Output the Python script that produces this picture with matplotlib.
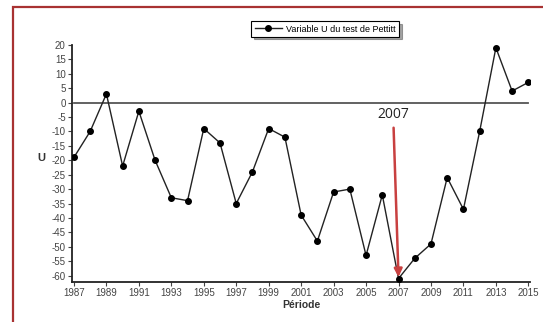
import matplotlib

matplotlib.use("Agg")
import matplotlib.pyplot as plt
from matplotlib.patches import Rectangle

years = list(range(1987, 2016))
u_values = [-19, -10, 3, -22, -3, -20, -33, -34, -9, -14, -35, -24, -9, -12,
            -39, -48, -31, -30, -53, -32, -61, -54, -49, -26, -37, -10, 19, 4, 7]
x_ticks = list(range(1987, 2016, 2))
y_ticks = list(range(-60, 21, 5))
rupture_year = 2007
rupture_u = -61

plt.rcParams["font.family"] = ["Liberation Sans", "DejaVu Sans"]
plt.rcParams["axes.unicode_minus"] = False

fig = plt.figure(figsize=(5.43, 3.22), dpi=100)
ax = fig.add_axes([0.1326, 0.1242, 0.8434, 0.7392])

# red frame around the chart (only left and top visible in the original)
fig.patches.append(Rectangle((12.5 / 543, -0.1), 1.2, (322 - 7) / 322 + 0.1,
                             transform=fig.transFigure, fill=False,
                             edgecolor="#a83232", linewidth=1.6))

ax.axhline(0, xmin=0.005, xmax=0.995, color="#555555", lw=1.3, zorder=1)
ax.plot(years, u_values, color="#222222", lw=1.0, marker="o", ms=4,
        markerfacecolor="black", markeredgecolor="black",
        label="Variable U du test de Pettitt", zorder=3)

ax.set_xlim(1986.88, 2015.1)
ax.set_ylim(-62.2, 20.3)
ax.set_xticks(x_ticks)
ax.set_yticks(y_ticks)
ax.tick_params(labelsize=7, colors="#444444", length=3, width=0.8, pad=1.5)
for s in ["top", "right"]:
    ax.spines[s].set_visible(False)
for s in ["left", "bottom"]:
    ax.spines[s].set_linewidth(1.3)
    ax.spines[s].set_color("#222222")
ax.spines["left"].set_bounds(-62.2, 20)

ax.set_xlabel("Période", fontsize=7.5, fontweight="bold", color="#333333", labelpad=1)
ax.set_ylabel("U", fontsize=8, fontweight="bold", color="#333333", rotation=0,
              ha="center", va="center")
ax.yaxis.set_label_coords(-0.066, 0.522)

leg = ax.legend(loc="upper center", bbox_to_anchor=(0.553, 1.095), fontsize=6.5,
                frameon=True, fancybox=False, shadow=True, borderpad=0.35,
                handlelength=3.0, handletextpad=0.5, borderaxespad=0)
leg.get_frame().set_edgecolor("black")
leg.get_frame().set_linewidth(0.8)

ax.annotate(str(rupture_year), xy=(rupture_year, rupture_u + 0.5),
            xytext=(rupture_year - 0.33, -1.6), ha="center", va="top",
            fontsize=10, family=["Open Sans", "DejaVu Sans"], color="#222222",
            arrowprops=dict(arrowstyle="-|>", color="#c84040", lw=1.8,
                            mutation_scale=12, shrinkA=2, shrinkB=0),
            zorder=4)

fig.savefig("out.png", dpi=100)
